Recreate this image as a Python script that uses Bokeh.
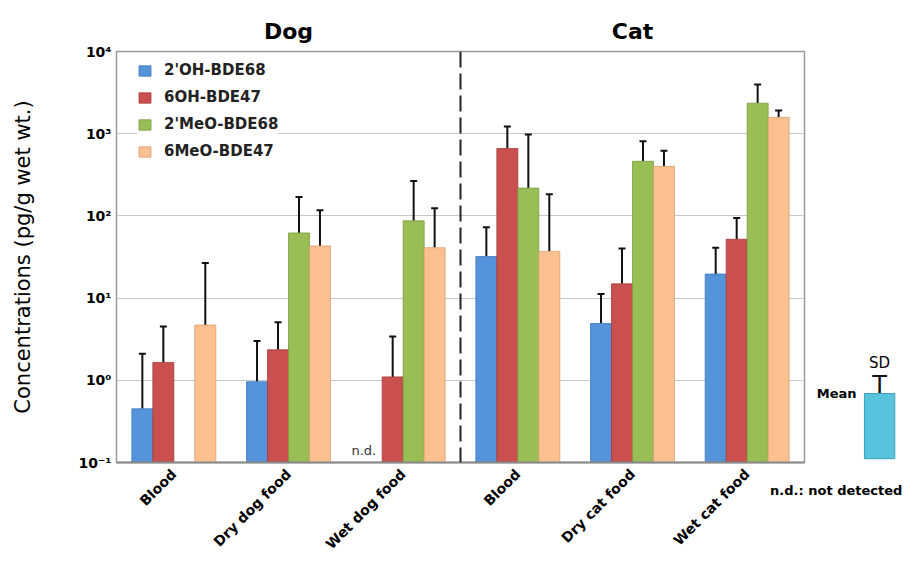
import math
from bokeh.plotting import figure
from bokeh.models import (ColumnDataSource, FixedTicker, Span, Label, Whisker, TeeHead,
                          Legend, LegendItem, LinearAxis)
from bokeh.embed import file_html
from bokeh.resources import INLINE

# ---- data (pg/g wet wt.) ----
groups = ["Blood", "Dry dog food", "Wet dog food", "Blood", "Dry cat food", "Wet cat food"]
panels = ["Dog", "Cat"]
series = ["2'OH-BDE68", "6OH-BDE47", "2'MeO-BDE68", "6MeO-BDE47"]
colors = ["#5593DB", "#C9504E", "#98BE55", "#FAC08F"]
edge_colors = ["#3F77B8", "#A53C3A", "#7A9C3E", "#D9A070"]

# mean values (None = not shown / not detected)
oh_bde68_mean = [0.45, 0.96, None, 32, 4.9, 19.6]
oh_bde47_mean = [1.65, 2.35, 1.1, 660, 14.9, 52]
meo_bde68_mean = [None, 62, 87, 218, 462, 2350]
meo_bde47_mean = [4.7, 43, 41, 37, 400, 1580]
# mean + SD (top of error bar)
oh_bde68_upper = [2.1, 3.0, None, 73, 11.2, 41]
oh_bde47_upper = [4.5, 5.1, 3.4, 1220, 40, 94]
meo_bde68_upper = [None, 170, 265, 980, 810, 3980]
meo_bde47_upper = [26.7, 117, 124, 183, 620, 1920]

means = [oh_bde68_mean, oh_bde47_mean, meo_bde68_mean, meo_bde47_mean]
uppers = [oh_bde68_upper, oh_bde47_upper, meo_bde68_upper, meo_bde47_upper]

y_ticks = [0.1, 1, 10, 100, 1000, 10000]
y_tick_labels = ["10\u207b\u00b9", "10\u2070", "10\u00b9", "10\u00b2", "10\u00b3", "10\u2074"]

FONT = "DejaVu Sans"

p = figure(width=910, height=562, y_axis_type="log",
           x_range=(0, 6), y_range=(0.1, 10000),
           output_backend="svg", toolbar_location=None,
           min_border_left=116, min_border_right=100,
           min_border_top=50, min_border_bottom=100)
p.background_fill_color = "white"
p.border_fill_color = "white"
p.outline_line_color = "#9a9a9a"
p.outline_line_width = 1.5

bar_w = 0.183
offsets = [-1.5 * bar_w, -0.5 * bar_w, 0.5 * bar_w, 1.5 * bar_w]

legend_items = []
for k in range(4):
    xs, tops, ups = [], [], []
    for i in range(len(groups)):
        if means[k][i] is None:
            continue
        xs.append(i + 0.5 + offsets[k])
        tops.append(means[k][i])
        ups.append(uppers[k][i])
    src = ColumnDataSource(dict(x=xs, top=tops, upper=ups))
    r = p.vbar(x="x", top="top", bottom=0.1, width=bar_w, source=src,
               fill_color=colors[k], line_color=edge_colors[k], line_width=0.8)
    legend_items.append(LegendItem(label=series[k], renderers=[r]))
    w = Whisker(base="x", lower="top", upper="upper", source=src,
                line_color="#111111", line_width=2,
                upper_head=TeeHead(size=7, line_color="#111111", line_width=2),
                lower_head=None)
    p.add_layout(w)

# divider between Dog and Cat
p.add_layout(Span(location=3, dimension="height", line_color="#222222",
                  line_width=2, line_dash="16 6"))

# y axis
p.yaxis.ticker = FixedTicker(ticks=y_ticks)
p.yaxis.major_label_overrides = {t: l for t, l in zip(y_ticks, y_tick_labels)}
p.yaxis.major_label_text_font = FONT
p.yaxis.major_label_text_font_style = "bold"
p.yaxis.major_label_text_font_size = "14px"
p.yaxis.major_label_text_color = "black"
p.yaxis.major_tick_line_color = None
p.yaxis.major_tick_out = 0
p.yaxis.major_tick_in = 0
p.yaxis.minor_tick_line_color = None
p.yaxis.axis_line_color = "#9a9a9a"
p.yaxis.major_label_standoff = 5
p.yaxis.axis_label = "Concentrations (pg/g wet wt.)"
p.yaxis.axis_label_text_font = FONT
p.yaxis.axis_label_text_font_style = "normal"
p.yaxis.axis_label_text_font_size = "21px"
p.yaxis.axis_label_text_color = "black"
p.yaxis.axis_label_standoff = 40

# x axis
x_ticks = [i + 0.5 for i in range(len(groups))]
p.xaxis.ticker = FixedTicker(ticks=x_ticks)
p.xaxis.major_label_overrides = {t: g for t, g in zip(x_ticks, groups)}
p.xaxis.major_label_orientation = math.pi / 4
p.xaxis.major_label_text_font = FONT
p.xaxis.major_label_text_font_style = "bold"
p.xaxis.major_label_text_font_size = "14px"
p.xaxis.major_label_text_color = "black"
p.xaxis.major_tick_line_color = None
p.xaxis.major_tick_out = 0
p.xaxis.major_tick_in = 0
p.xaxis.minor_tick_line_color = None
p.xaxis.axis_line_color = "#888888"
p.xaxis.axis_line_width = 2
p.xaxis.major_label_standoff = 9

p.xgrid.grid_line_color = None
p.ygrid.grid_line_color = "#c8c8c8"
p.ygrid.grid_line_width = 1

# Dog / Cat headers as a top axis
panel_ticks = [1.5, 4.5]
top_axis = LinearAxis(ticker=FixedTicker(ticks=panel_ticks),
                      major_label_overrides={t: s for t, s in zip(panel_ticks, panels)},
                      axis_line_color=None, major_tick_line_color=None,
                      minor_tick_line_color=None, major_tick_out=0, major_tick_in=0,
                      minor_tick_out=0, minor_tick_in=0,
                      major_label_standoff=8,
                      major_label_text_font=FONT, major_label_text_font_style="bold",
                      major_label_text_font_size="22px", major_label_text_color="black")
p.add_layout(top_axis, "above")

# legend
legend = Legend(items=legend_items, location=(21, 301))
legend.label_text_font = FONT
legend.label_text_font_style = "bold"
legend.label_text_font_size = "15px"
legend.label_text_color = "#222222"
legend.glyph_width = 15
legend.glyph_height = 13
legend.label_height = 20
legend.spacing = 7
legend.padding = 6
legend.label_standoff = 12
legend.border_line_color = None
legend.background_fill_color = "white"
legend.background_fill_alpha = 1
p.add_layout(legend)

# in-plot n.d. marker
p.add_layout(Label(x=2.157, y=0.115, text="n.d.", text_font=FONT,
                   text_font_size="13px", text_align="center",
                   text_baseline="bottom", text_color="#333333"))

# note below the plot (outside frame -> side panel so it is not clipped)
p.add_layout(Label(x=5.70, y=0.0457, text="n.d.: not detected", text_font=FONT,
                   text_font_style="bold", text_font_size="13px", text_align="left",
                   text_baseline="middle", text_color="black"), "above")

# SD / Mean key on the right
p.add_layout(Label(x=6.454, y=0.688, text="Mean", text_font=FONT,
                   text_font_style="bold", text_font_size="13px", text_align="right",
                   text_baseline="middle", text_color="black"), "right")
p.add_layout(Label(x=6.655, y=1.636, text="SD", text_font=FONT,
                   text_font_size="15px", text_align="center",
                   text_baseline="middle", text_color="black"), "right")
p.add_layout(Label(x=6.655, y=0.277, text=" ", text_font=FONT,
                   text_font_size="1px", text_align="center", text_baseline="middle",
                   background_fill_color="#57C3DD", background_fill_alpha=1,
                   border_line_color="#3D9FBA", border_line_width=1,
                   padding=(15, 32)), "right")
p.add_layout(Label(x=6.655, y=0.586, text="T", text_font=FONT,
                   text_font_size="24px", text_align="center",
                   text_baseline="bottom", text_color="#111111"), "right")

open("out.html", "w").write(file_html(p, INLINE))
